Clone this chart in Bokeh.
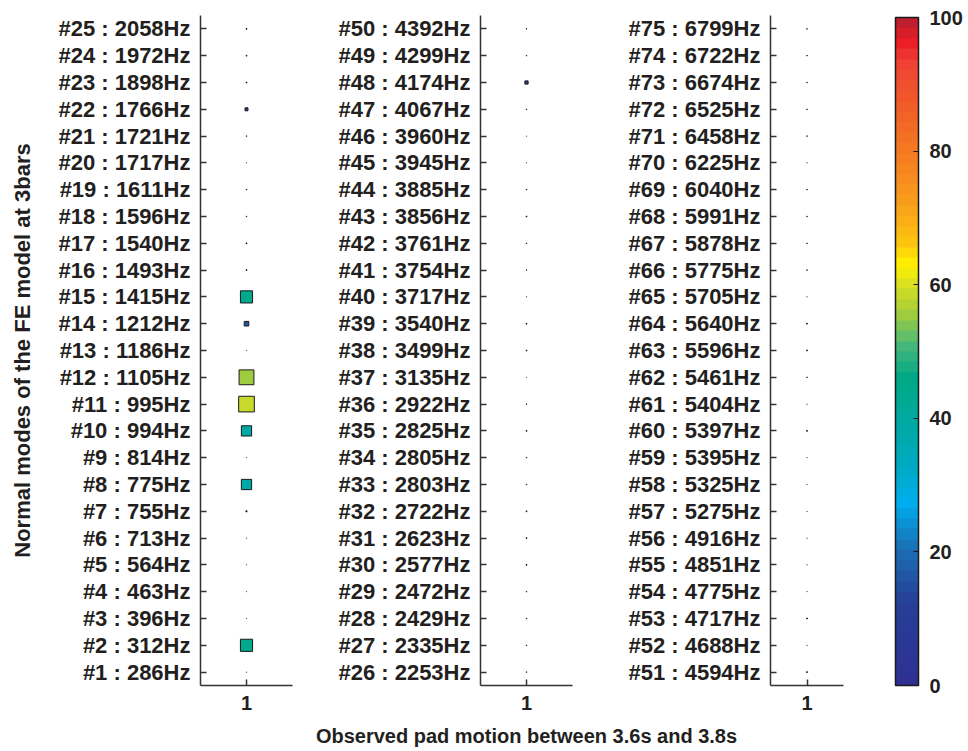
import numpy as np
from bokeh.plotting import figure
from bokeh.layouts import row, column
from bokeh.models import (ColumnDataSource, LinearColorMapper, ColorBar, FixedTicker,
                          Range1d, FactorRange, Label)
from bokeh.embed import file_html
from bokeh.resources import INLINE

# ---------------- data ----------------
freqs1 = [286, 312, 396, 463, 564, 713, 755, 775, 814, 994, 995, 1105, 1186, 1212, 1415,
          1493, 1540, 1596, 1611, 1717, 1721, 1766, 1898, 1972, 2058]
freqs2 = [2253, 2335, 2429, 2472, 2577, 2623, 2722, 2803, 2805, 2825, 2922, 3135, 3499,
          3540, 3717, 3754, 3761, 3856, 3885, 3945, 3960, 4067, 4174, 4299, 4392]
freqs3 = [4594, 4688, 4717, 4775, 4851, 4916, 5275, 5325, 5395, 5397, 5404, 5461, 5596,
          5640, 5705, 5775, 5878, 5991, 6040, 6225, 6458, 6525, 6674, 6722, 6799]

values1 = [1, 45, 1, 1, 1, 1, 4, 38, 1, 38, 58, 55, 1, 17, 45, 3, 3, 2, 2, 1, 2, 11, 3, 3, 3]
values2 = [2, 2, 2, 2, 3, 3, 3, 2, 2, 3, 2, 1, 3, 3, 1, 2, 2, 3, 2, 1, 1, 2, 12, 2, 2]
values3 = [3, 1, 3, 1, 1, 1, 1, 1, 1, 3, 1, 2, 3, 3, 1, 2, 2, 2, 2, 1, 2, 2, 2, 2, 2]

x_category = ["1"]
colorbar_ticks = [0, 20, 40, 60, 80, 100]
x_title = "Observed pad motion between 3.6s and 3.8s"
y_title = "Normal modes of the FE model at 3bars"

# ---------------- style ----------------
FONT = "Liberation Sans"
TXT = "#231f20"
SIZE_PER_UNIT = 0.27

anchors = [(0, "#2e3192"), (12, "#253f96"), (20, "#1c6fb5"), (27, "#00aeef"),
           (33, "#00aac0"), (40, "#00a99d"), (46, "#00a886"), (51, "#49b87a"),
           (56, "#a6ce39"), (60, "#d7df23"), (63, "#fff200"), (67, "#fdc010"),
           (72, "#f9a11b"), (80, "#f47b20"), (88, "#f15a29"), (94, "#ef4136"),
           (97, "#ed1c24"), (100, "#be1e2d")]


def hex2rgb(h):
    return [int(h[i:i + 2], 16) for i in (1, 3, 5)]


pos = np.array([a[0] for a in anchors], dtype=float)
rgbs = np.array([hex2rgb(a[1]) for a in anchors], dtype=float)
levels = np.linspace(0, 100, 64)
palette = []
for lv in levels:
    c = [int(round(np.interp(lv, pos, rgbs[:, k]))) for k in range(3)]
    palette.append("#%02x%02x%02x" % tuple(c))

mapper = LinearColorMapper(palette=palette, low=0, high=100)

PANEL_H = 720
TOP = 15
FRAME_H = 670


def make_panel(first_mode, freqs, values, width, left, right, ylabel=None):
    n = len(freqs)
    rows = list(range(1, n + 1))
    src = ColumnDataSource(dict(
        x=x_category * n,
        y=rows,
        v=values,
        s=[v * SIZE_PER_UNIT for v in values],
    ))
    p = figure(width=width, height=PANEL_H, x_range=FactorRange(*x_category),
               y_range=Range1d(0.5, n + 0.5), output_backend="svg",
               toolbar_location=None, min_border_left=left, min_border_right=right,
               min_border_top=TOP, min_border_bottom=PANEL_H - TOP - FRAME_H)
    p.x_range.range_padding = 0.0
    p.scatter("x", "y", source=src, marker="square", size="s",
              fill_color={"field": "v", "transform": mapper},
              line_color="#1a1a1a", line_width=1)
    p.xgrid.visible = False
    p.ygrid.visible = False
    p.outline_line_color = None
    p.yaxis.ticker = FixedTicker(ticks=rows)
    p.yaxis.major_label_overrides = {
        r: "#%d : %dHz" % (first_mode + r - 1, f) for r, f in zip(rows, freqs)}
    for ax in (p.xaxis[0], p.yaxis[0]):
        ax.major_label_text_font = FONT
        ax.major_label_text_font_style = "bold"
        ax.major_label_text_color = TXT
        ax.axis_line_color = "#333333"
        ax.axis_line_width = 1.5
        ax.major_tick_line_color = "#333333"
        ax.major_tick_line_width = 1.5
        ax.major_tick_in = 6
        ax.major_tick_out = 0
        ax.minor_tick_line_color = None
        ax.major_label_standoff = 10
        ax.axis_label_text_font = FONT
        ax.axis_label_text_font_style = "bold"
        ax.axis_label_text_color = TXT
    p.yaxis.major_label_text_font_size = "22px"
    p.xaxis.major_label_text_font_size = "20px"
    if ylabel:
        p.yaxis.axis_label = ylabel
        p.yaxis.axis_label_text_font_size = "22px"
        p.yaxis.axis_label_standoff = 20
    return p


p1 = make_panel(1, freqs1, values1, 300, 200, 8, ylabel=y_title)
p2 = make_panel(26, freqs2, values2, 280, 180, 8)
p3 = make_panel(51, freqs3, values3, 385, 190, 103)

cb = ColorBar(color_mapper=mapper, ticker=FixedTicker(ticks=colorbar_ticks),
              width=23, height=668, margin=0, padding=0, location=(52, 0),
              bar_line_color="#1a1a1a", bar_line_width=1.5,
              major_tick_line_color="#1a1a1a", major_tick_in=5, major_tick_out=0,
              minor_tick_line_color=None, label_standoff=11,
              major_label_text_font=FONT, major_label_text_font_style="bold",
              major_label_text_font_size="20px", major_label_text_color=TXT,
              background_fill_alpha=0)
p3.add_layout(cb, "right")

# footer holding the shared x-axis title
footer = figure(width=965, height=30, x_range=Range1d(0, 965), y_range=Range1d(0, 30),
                x_axis_type=None, y_axis_type=None, output_backend="svg",
                toolbar_location=None, min_border=0)
footer.outline_line_color = None
footer.grid.visible = False
footer.add_layout(Label(x=526, y=15, text=x_title, text_align="center",
                        text_baseline="middle", text_font=FONT,
                        text_font_style="bold", text_font_size="20px",
                        text_color=TXT))

layout = column(row(p1, p2, p3, spacing=0), footer, spacing=0)

open("out.html", "w").write(file_html(layout, INLINE))
